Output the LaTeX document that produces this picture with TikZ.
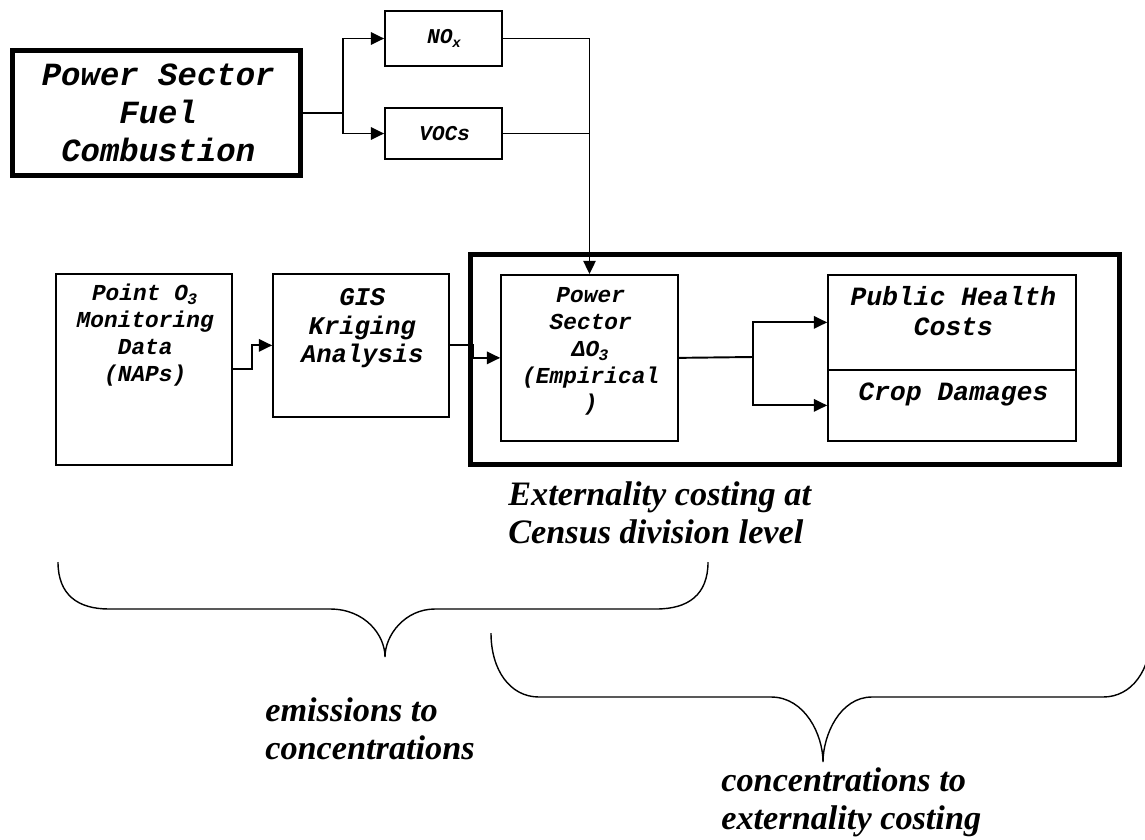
\documentclass[tikz,border=0pt]{standalone}
\usepackage{fontspec}
\setmainfont{Liberation Serif}
\newfontfamily\monofont{Liberation Mono Bold}[FakeSlant=0.2]
\usetikzlibrary{arrows.meta,positioning}

\tikzset{
  box/.style={draw, line width=1pt, inner sep=0pt, align=center},
  bigbox/.style={draw, line width=2.8pt, inner sep=0pt, align=center},
  mono/.style 2 args={font={\monofont\fontsize{#1}{#2}\selectfont},
    execute at begin node={\spaceskip 0.6em\relax}},
  link/.style={line width=1.1pt},
  arrow/.style={link, -{Triangle[length=7.5pt,width=7pt]}},
  brace/.style={line width=0.8pt},
  note/.style={font=\fontsize{19.5}{21.5}\selectfont\bfseries\itshape, align=left, inner sep=0pt, anchor=base west},
}

\begin{document}
\begin{tikzpicture}[x=0.02cm, y=-0.02cm]
  \useasboundingbox (0,0) rectangle (1145,839);

  % emission source and precursors
  \node[bigbox, mono={18.4}{21.5}, minimum width=5.76cm, minimum height=2.5cm] (fuel) at (156.5,113) {Power Sector\\Fuel\\Combustion};
  \node[box, mono={12}{14}, minimum width=2.34cm, minimum height=1.1cm] (nox) at (443.5,38.5) {NO\textsubscript{x}};
  \node[box, mono={12}{14}, minimum width=2.34cm, minimum height=1.02cm] (vocs) at (443.5,133.5) {VOCs};

  % monitoring chain
  \node[box, mono={13}{15.3}, text width=3.52cm, text height=0.54cm, text depth=3.28cm, anchor=north] (point) at (144,273) {Point O\textsubscript{3}\\Monitoring\\Data\\(NAPs)};
  \node[box, mono={14.5}{16.2}, text width=3.52cm, text height=0.64cm, text depth=2.22cm, anchor=north] (gis) at (361,273) {GIS\\Kriging\\Analysis};

  % externality costing frame
  \node[bigbox, minimum width=12.98cm, minimum height=4.2cm] (costframe) at (795,359.5) {};
  \node[box, mono={13}{15.3}, text width=3.54cm, text height=0.56cm, text depth=2.76cm, anchor=north] (dO3) at (589.5,274) {Power\\Sector\\ΔO\textsubscript{3}\\(Empirical\\)};
  \node[box, mono={15}{17}, text width=4.96cm, text height=0.62cm, text depth=1.28cm, anchor=north] (health) at (952,274) {Public Health\\Costs};
  \node[box, mono={15}{17}, text width=4.96cm, text height=0.62cm, text depth=0.80cm, anchor=north] (crop) at (952,369) {Crop Damages};

  % connectors
  \coordinate (fuelsplit) at (343,113);
  \draw[link] (fuel.east) -- (fuelsplit);
  \draw[arrow] (fuelsplit) |- (nox.west);
  \draw[arrow] (fuelsplit) |- (vocs.west);
  \draw[arrow] (nox.east) -| (dO3.north);
  \draw[link] (vocs.east) -- (vocs.east -| dO3.north);
  \draw[arrow] (point.east) -- ++(19,0) |- (gis.west);
  \draw[arrow] (gis.east) -- ++(23,0) |- (dO3.west);
  \coordinate (costsplit) at (753,357);
  \draw[link] (dO3.east) -- (costsplit);
  \draw[arrow] (costsplit) |- (health.west);
  \draw[arrow] (costsplit) |- (crop.west);

  % captions (anchored on the last line)
  \node[note] (costnote) at (508,543) {Externality costing at\\Census division level};
  \node[note] (emisnote) at (265,759) {emissions to\\concentrations};
  \node[note] (concnote) at (721,829) {concentrations to\\externality costing};

  % braces
  \draw[brace] (58,562) .. controls (58,595) and (78,609) .. (109,609) -- (330,609)
    .. controls (365,609) and (385,635) .. (385,657)
    .. controls (385,635) and (405,609) .. (435,609) -- (656,609)
    .. controls (688,609) and (708,595) .. (708,562);
  \draw[brace] (491,633) .. controls (491,670) and (510,697) .. (539,697) -- (771,697)
    .. controls (805,697) and (823,735) .. (823,762)
    .. controls (823,735) and (840,697) .. (872,697) -- (1103,697)
    .. controls (1132,697) and (1151,670) .. (1151,633);
\end{tikzpicture}
\end{document}
